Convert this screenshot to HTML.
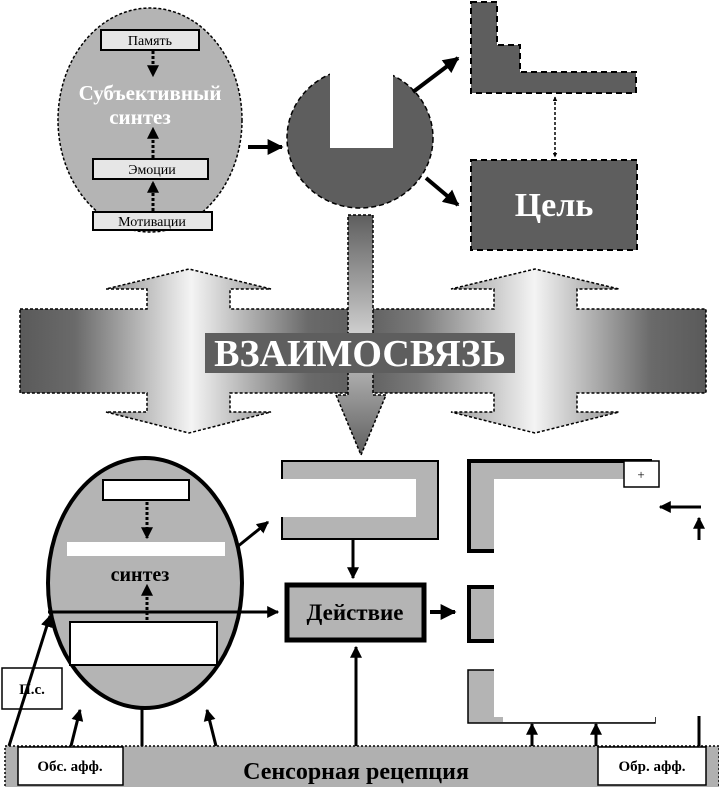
<!DOCTYPE html>
<html><head><meta charset="utf-8"><style>
html,body{margin:0;padding:0;background:#fff;width:719px;height:787px;overflow:hidden}
svg{display:block}
text{font-family:"Liberation Serif",serif}
</style></head><body>
<svg width="719" height="787" viewBox="0 0 719 787" xmlns="http://www.w3.org/2000/svg">
<defs>
<linearGradient id="hg" gradientUnits="userSpaceOnUse" x1="20" y1="0" x2="706" y2="0">
<stop offset="0" stop-color="#5a5a5a"/>
<stop offset="0.08" stop-color="#6a6a6a"/>
<stop offset="0.25" stop-color="#f4f4f4"/>
<stop offset="0.42" stop-color="#6a6a6a"/>
<stop offset="0.5" stop-color="#5e5e5e"/>
<stop offset="0.58" stop-color="#7a7a7a"/>
<stop offset="0.75" stop-color="#f4f4f4"/>
<stop offset="0.92" stop-color="#6a6a6a"/>
<stop offset="1" stop-color="#5a5a5a"/>
</linearGradient>
<radialGradient id="vg" cx="0.5" cy="0.5" r="0.5">
<stop offset="0" stop-color="#eee"/><stop offset="1" stop-color="#5e5e5e"/>
</radialGradient>
<linearGradient id="dg" x1="0" y1="0" x2="0" y2="1">
<stop offset="0" stop-color="#5e5e5e"/><stop offset="0.5" stop-color="#d0d0d0"/><stop offset="1" stop-color="#5e5e5e"/>
</linearGradient>
<marker id="ah" viewBox="0 0 10 10" refX="9" refY="5" markerWidth="4" markerHeight="4" orient="auto"><path d="M0,0L10,5L0,10z" fill="#000"/></marker>
<marker id="as" viewBox="0 0 10 10" refX="9" refY="5" markerWidth="3" markerHeight="3" orient="auto-start-reverse"><path d="M0,0L10,5L0,10z" fill="#000"/></marker>
</defs>

<!-- top-left ellipse -->
<ellipse cx="150" cy="120" rx="92" ry="112" fill="#b4b4b4" stroke="#000" stroke-width="1.5" stroke-dasharray="3,2"/>
<rect x="101" y="30" width="98" height="20" fill="#e6e6e6" stroke="#000" stroke-width="2"/>
<text x="150" y="45" font-size="14" text-anchor="middle">Память</text>
<rect x="93" y="159" width="115" height="20" fill="#e6e6e6" stroke="#000" stroke-width="2"/>
<text x="152" y="174" font-size="14" text-anchor="middle">Эмоции</text>
<rect x="93" y="212" width="119" height="18" fill="#e6e6e6" stroke="#000" stroke-width="2"/>
<text x="152" y="226" font-size="14" text-anchor="middle">Мотивации</text>
<line x1="153" y1="51" x2="153" y2="76" stroke="#000" stroke-width="3" stroke-dasharray="3,2" marker-end="url(#ah)"/>
<line x1="153" y1="158" x2="153" y2="128" stroke="#000" stroke-width="3" stroke-dasharray="3,2" marker-end="url(#ah)"/>
<line x1="153" y1="211" x2="153" y2="182" stroke="#000" stroke-width="3" stroke-dasharray="3,2" marker-end="url(#ah)"/>
<text x="150" y="100" font-size="21" font-weight="bold" fill="#fff" text-anchor="middle">Субъективный</text>
<text x="140" y="124" font-size="21" font-weight="bold" fill="#fff" text-anchor="middle">синтез</text>
<line x1="248" y1="147" x2="282" y2="147" stroke="#000" stroke-width="4" marker-end="url(#ah)"/>

<!-- dark circle -->
<ellipse cx="360" cy="138" rx="73" ry="70" fill="#5e5e5e" stroke="#000" stroke-width="1.5" stroke-dasharray="5,3"/>
<rect x="330" y="66" width="63" height="82" fill="#fff"/>
<line x1="413" y1="92" x2="458" y2="58" stroke="#000" stroke-width="4" marker-end="url(#ah)"/>
<line x1="426" y1="178" x2="458" y2="205" stroke="#000" stroke-width="4" marker-end="url(#ah)"/>

<!-- top-right L box -->
<path d="M471,2H497V45H520V72H636V93H471Z" fill="#5e5e5e" stroke="#000" stroke-width="2" stroke-dasharray="6,4"/>
<line x1="555" y1="97" x2="555" y2="157" stroke="#000" stroke-width="1.5" stroke-dasharray="3,2" marker-start="url(#as)" marker-end="url(#as)"/>
<rect x="471" y="160" width="166" height="90" fill="#5e5e5e" stroke="#000" stroke-width="2" stroke-dasharray="6,4"/>
<text x="554" y="216" font-size="34" font-weight="bold" fill="#fff" text-anchor="middle">Цель</text>

<!-- middle gradient arrows -->
<path d="M20,309H147V289H106L189,269L271,289H230V309H494V289H451L535,269L619,289H577V309H706V393H577V412H619L535,433L451,412H494V393H230V412H271L189,433L106,412H147V393H20Z" fill="url(#hg)" stroke="#000" stroke-width="1.5" stroke-dasharray="3,2"/>
<path d="M348,215H373V395H386L361,455L336,395H348Z" fill="url(#dg)" stroke="#000" stroke-width="1.5" stroke-dasharray="3,2"/>
<rect x="205" y="333" width="310" height="40" fill="#5e5e5e"/>
<text x="360" y="366" font-size="38" font-weight="bold" fill="#fff" text-anchor="middle">ВЗАИМОСВЯЗЬ</text>

<!-- bottom ellipse -->
<ellipse cx="145" cy="583" rx="97" ry="125" fill="#b4b4b4" stroke="#000" stroke-width="4"/>
<rect x="103" y="480" width="86" height="20" fill="#fff" stroke="#000" stroke-width="2"/>
<line x1="147" y1="502" x2="147" y2="538" stroke="#000" stroke-width="3" stroke-dasharray="3,2" marker-end="url(#ah)"/>
<rect x="67" y="542" width="158" height="14" fill="#fff"/>
<text x="140" y="581" font-size="20" font-weight="bold" text-anchor="middle">синтез</text>
<line x1="147" y1="620" x2="147" y2="585" stroke="#000" stroke-width="3" stroke-dasharray="3,2" marker-end="url(#ah)"/>
<line x1="48" y1="612" x2="278" y2="612" stroke="#000" stroke-width="3" marker-end="url(#ah)"/>
<rect x="70" y="622" width="147" height="43" fill="#fff" stroke="#000" stroke-width="2"/>
<line x1="237" y1="547" x2="268" y2="522" stroke="#000" stroke-width="3" marker-end="url(#ah)"/>
<rect x="2" y="668" width="60" height="41" fill="#fff" stroke="#000" stroke-width="1.5"/>
<text x="32" y="694" font-size="15" font-weight="bold" text-anchor="middle">П.с.</text>
<line x1="9" y1="746" x2="50" y2="616" stroke="#000" stroke-width="3" marker-end="url(#ah)"/>
<line x1="71" y1="746" x2="80" y2="710" stroke="#000" stroke-width="3" marker-end="url(#ah)"/>
<line x1="142" y1="707" x2="142" y2="746" stroke="#000" stroke-width="3"/>
<line x1="216" y1="746" x2="207" y2="710" stroke="#000" stroke-width="3" marker-end="url(#ah)"/>

<!-- program -->
<rect x="282" y="461" width="156" height="78" fill="#b4b4b4" stroke="#000" stroke-width="2"/>
<rect x="280" y="479" width="136" height="38" fill="#fff"/>
<line x1="353" y1="540" x2="353" y2="578" stroke="#000" stroke-width="3" marker-end="url(#ah)"/>
<rect x="287" y="585" width="137" height="55" fill="#b4b4b4" stroke="#000" stroke-width="5"/>
<text x="355" y="620" font-size="23" font-weight="bold" text-anchor="middle">Действие</text>
<line x1="356" y1="746" x2="356" y2="647" stroke="#000" stroke-width="3" marker-end="url(#ah)"/>
<line x1="430" y1="612" x2="455" y2="612" stroke="#000" stroke-width="4" marker-end="url(#ah)"/>

<!-- right boxes -->
<rect x="469" y="461" width="181" height="90" fill="#b4b4b4" stroke="#000" stroke-width="4"/>
<rect x="469" y="587" width="40" height="54" fill="#b4b4b4" stroke="#000" stroke-width="4"/>
<rect x="468" y="670" width="187" height="53" fill="#b4b4b4" stroke="#000" stroke-width="1.5"/>
<rect x="494" y="479" width="206" height="238" fill="#fff"/>
<rect x="503" y="670" width="152" height="52" fill="#fff"/>
<rect x="624" y="461" width="35" height="26" fill="#fff" stroke="#000" stroke-width="1.5"/>
<text x="641" y="479" font-size="13" text-anchor="middle">+</text>
<rect x="624" y="527" width="35" height="14" fill="#fff"/>
<line x1="701" y1="507" x2="660" y2="507" stroke="#000" stroke-width="3" marker-end="url(#ah)"/>
<line x1="699" y1="540" x2="699" y2="518" stroke="#000" stroke-width="3" marker-end="url(#ah)"/>
<line x1="532" y1="746" x2="532" y2="724" stroke="#000" stroke-width="3" marker-end="url(#ah)"/>
<line x1="596" y1="746" x2="596" y2="724" stroke="#000" stroke-width="3" marker-end="url(#ah)"/>
<line x1="699" y1="716" x2="699" y2="746" stroke="#000" stroke-width="3"/>

<!-- sensor band -->
<rect x="5" y="746" width="714" height="42" fill="#b0b0b0" stroke="#000" stroke-width="1.5" stroke-dasharray="2,2"/>
<text x="356" y="779" font-size="24" font-weight="bold" text-anchor="middle">Сенсорная рецепция</text>
<rect x="18" y="747" width="105" height="38" fill="#fff" stroke="#000" stroke-width="1.5"/>
<text x="70" y="771" font-size="15" font-weight="bold" text-anchor="middle">Обс. афф.</text>
<rect x="598" y="747" width="108" height="38" fill="#fff" stroke="#000" stroke-width="1.5"/>
<text x="652" y="771" font-size="15" font-weight="bold" text-anchor="middle">Обр. афф.</text>
</svg>
</body></html>
